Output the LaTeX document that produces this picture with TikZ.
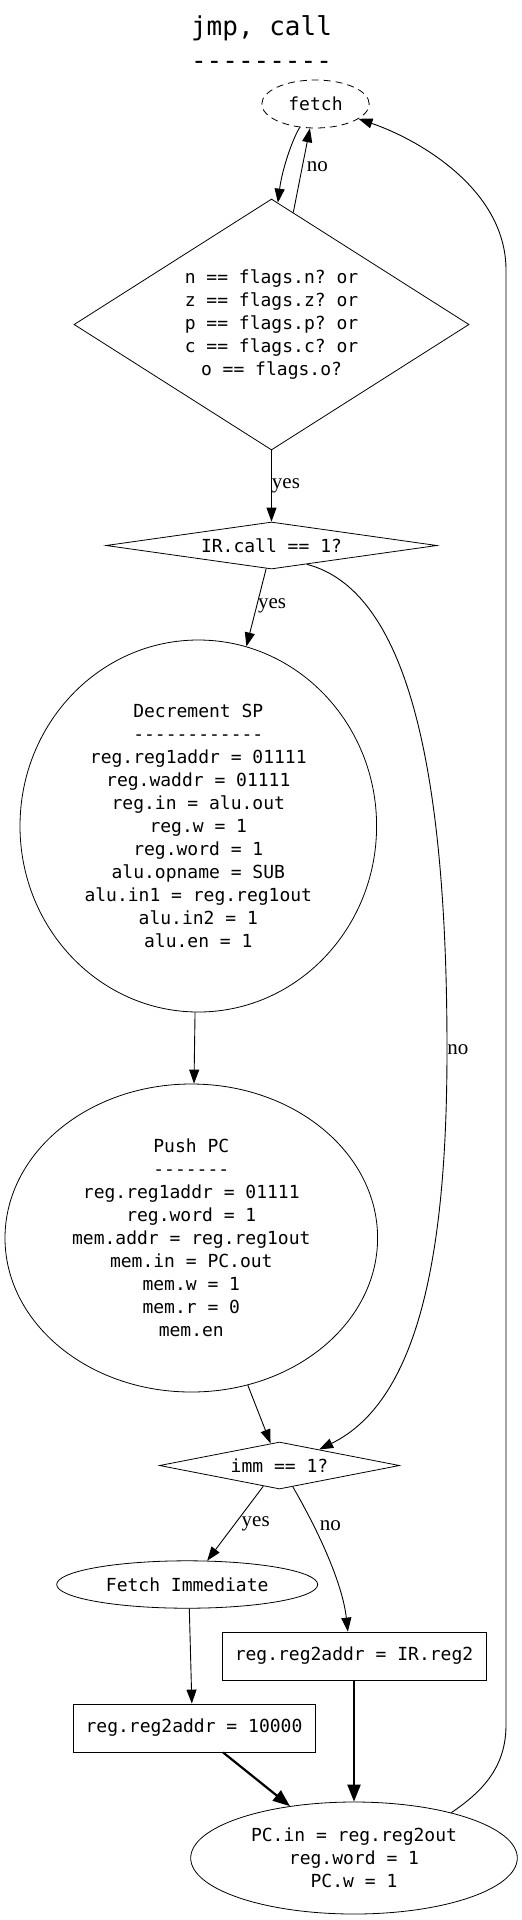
\documentclass[tikz,border=0pt]{standalone}
\usepackage{fontspec}
\setmainfont{Liberation Serif}
\setmonofont{DejaVu Sans Mono}
\usepackage{tikz}
\usetikzlibrary{shapes.geometric,arrows.meta}

\begin{document}
\begin{tikzpicture}[x=1pt,y=-1pt,>={Triangle[length=14pt,width=10pt]},
	code/.style={draw,line width=0.8pt,align=center,inner sep=0pt,font=\ttfamily\fontsize{18}{23}\selectfont},
	decision/.style={code,diamond},
	oval/.style={code,ellipse},
	box/.style={code,rectangle},
	lbl/.style={inner sep=1pt,font=\fontsize{21}{25}\selectfont},
	flow/.style={->,line width=0.9pt},
	heavy/.style={-{Triangle[length=17pt,width=13pt]},line width=2.2pt}]
			\useasboundingbox (0,0) rectangle (522,1920);
			
			\node[align=center,inner sep=0pt,font=\ttfamily\fontsize{26}{34.5}\selectfont] (title) at (261.5,42.3) {jmp, call\\---------};
			
			\node[oval,dash pattern=on 7pt off 5pt,minimum width=107.4pt,minimum height=48pt] (fetch) at (315.5,104) {fetch};
			\node[decision,aspect=1.574,minimum width=395pt,minimum height=251pt] (cond) at (271.5,324.5)
			{n == flags.n? or\\z == flags.z? or\\p == flags.p? or\\c == flags.c? or\\o == flags.o?};
			\node[decision,aspect=7,minimum width=331pt,minimum height=47pt] (ircall) at (271.5,545.5) {IR.call == 1?};
			\node[oval,minimum width=356.6pt,minimum height=372pt] (decr) at (198.3,826)
			{Decrement SP\\------------\\reg.reg1addr = 01111\\reg.waddr = 01111\\reg.in = alu.out\\reg.w = 1\\reg.word = 1\\alu.opname = SUB\\alu.in1 = reg.reg1out\\alu.in2 = 1\\alu.en = 1};
			\node[oval,minimum width=372.6pt,minimum height=308pt] (push) at (191.3,1238)
			{Push PC\\-------\\reg.reg1addr = 01111\\reg.word = 1\\mem.addr = reg.reg1out\\mem.in = PC.out\\mem.w = 1\\mem.r = 0\\mem.en};
			\node[decision,aspect=5,minimum width=240pt,minimum height=47pt] (imm) at (279.5,1465.5) {imm == 1?};
			\node[oval,minimum width=261pt,minimum height=47.4pt] (fimm) at (187.2,1584.5) {Fetch Immediate};
			\node[box,minimum width=264pt,minimum height=48pt] (rir) at (354,1656) {reg.reg2addr = IR.reg2};
			\node[box,minimum width=242pt,minimum height=48pt] (rimm) at (194,1728) {reg.reg2addr = 10000};
			\node[oval,minimum width=326.6pt,minimum height=112pt] (pc) at (354,1858) {PC.in = reg.reg2out\\reg.word = 1\\PC.w = 1};
			
			\draw[flow] (fetch.236) .. controls (292,140) and (282,170) .. (cond.87);
			\draw[flow] (cond.79) -- node[lbl,right,pos=.55,xshift=3pt] {no} (fetch.257);
			\draw[flow] (cond.south) -- node[lbl,right,inner sep=0pt] {yes} (ircall.north);
			\draw[flow] (ircall.257) -- node[lbl,right,pos=.48] {yes} (decr.75);
			% no: round the right side down to imm
			\draw[flow] (ircall.332) .. controls (405,590) and (447,760) .. (447,1050) node[lbl,right,inner sep=0pt] {no}
			.. controls (447,1250) and (420,1400) .. (imm.22);
			\draw[flow] (decr.269) -- (push.89);
			\draw[flow] (push.291) -- (imm.112);
			\draw[flow] (imm.232) -- node[lbl,right,xshift=5pt] {yes} (fimm.50);
			\draw[flow] (imm.302) .. controls (315,1525) and (342,1580) .. node[lbl,right,pos=.3,xshift=5pt] {no} (rir.104);
			\draw[flow] (fimm.275) -- (rimm.95);
			\draw[heavy] (rimm.320) -- (pc.141);
			\draw[heavy] (rir.south) -- (pc.north);
			\draw[flow] (pc.25) .. controls (485,1790) and (506,1765) .. (506,1725) -- (506,270)
			.. controls (506,190) and (420,140) .. (fetch.341);
		\end{tikzpicture}
\end{document}
